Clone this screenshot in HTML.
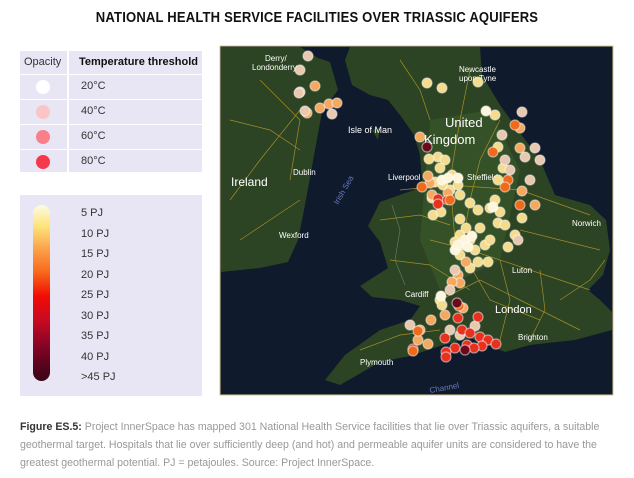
<!DOCTYPE html>
<html><head><meta charset="utf-8"><style>
body{margin:0;width:634px;height:478px;background:#fff;font-family:"Liberation Sans",sans-serif;position:relative;overflow:hidden}
.t{position:absolute;top:10px;left:0;width:634px;text-align:center;font-weight:900;font-size:14.5px;color:#111;letter-spacing:0.2px;transform:scaleX(0.9)}
.box1{position:absolute;left:20px;top:51px;width:182px;height:121px;background:#e8e6f5}
.row{position:absolute;left:0;width:182px;height:24px;border-top:1px solid #fff;font-size:11px;color:#333}
.c1{position:absolute;left:0;top:0;width:47px;height:100%;border-right:2px solid #fff}
.lab{position:absolute;left:61px;top:5px}
.dot{position:absolute;left:16px;top:5px;width:14px;height:14px;border-radius:50%}
.box2{position:absolute;left:20px;top:195px;width:182px;height:201px;background:#e8e6f5}
.bar{position:absolute;left:13px;top:10px;width:17px;height:176px;border-radius:9px;background:linear-gradient(#fdfbe4,#fde47a 12%,#fba24a 25%,#f76a1c 38%,#f20b05 52%,#c80a22 65%,#8e0525 78%,#5c041e 90%,#3a0416)}
.pj{position:absolute;left:61px;font-size:11px;color:#333}
.cap{position:absolute;left:20px;top:418px;width:600px;font-size:10.6px;line-height:18px;color:#999}
.cap b{color:#333}
</style></head><body>
<div class="t">NATIONAL HEALTH SERVICE FACILITIES OVER TRIASSIC AQUIFERS</div>
<div class="box1">
<div class="row" style="top:0;border-top:none;height:23px"><div class="c1"><span style="position:absolute;left:4px;top:5px">Opacity</span></div><span class="lab" style="font-weight:bold;color:#111;left:59px">Temperature threshold</span></div>
<div class="row" style="top:23px"><div class="c1"><div class="dot" style="background:#fff"></div></div><span class="lab">20°C</span></div>
<div class="row" style="top:48px"><div class="c1"><div class="dot" style="background:#fbc4c6"></div></div><span class="lab">40°C</span></div>
<div class="row" style="top:73px"><div class="c1"><div class="dot" style="background:#f8808a"></div></div><span class="lab">60°C</span></div>
<div class="row" style="top:98px"><div class="c1"><div class="dot" style="background:#f5394a"></div></div><span class="lab">80°C</span></div>
</div>
<div class="box2"><div class="bar"></div>
<div class="pj" style="top:12px">5 PJ</div><div class="pj" style="top:33px">10 PJ</div><div class="pj" style="top:53px">15 PJ</div><div class="pj" style="top:74px">20 PJ</div><div class="pj" style="top:94px">25 PJ</div><div class="pj" style="top:115px">30 PJ</div><div class="pj" style="top:135px">35 PJ</div><div class="pj" style="top:156px">40 PJ</div><div class="pj" style="top:176px">&gt;45 PJ</div>
</div>
<svg style="position:absolute;left:0;top:0" width="634" height="478">
<rect x="220" y="46" width="393" height="349" fill="#0f1a2c" stroke="#d8c98a" stroke-width="1"/>
<g fill="#2c4423">
<path d="M221,47 L300,47 L318,58 L330,62 L338,90 L322,112 L315,150 L310,178 L304,210 L298,240 L288,262 L260,268 L221,272 Z"/>
<path d="M350,47 L480,47 L482,75 L500,105 L518,130 L540,160 L555,195 L590,205 L606,220 L610,250 L603,275 L588,290 L600,300 L612,312 L612,330 L575,340 L530,345 L505,352 L470,338 L440,346 L410,356 L380,362 L340,385 L325,380 L345,355 L380,330 L410,320 L420,306 L400,300 L372,297 L360,286 L388,268 L380,242 L368,226 L380,202 L414,190 L422,180 L420,155 L414,135 L400,115 L388,100 L370,95 L352,85 L345,60 Z"/>
<path d="M372,130 L380,128 L378,140 Z"/>
</g>
<g fill="#3a5a2c" opacity="0.6"><path d="M430,120 L490,110 L520,170 L500,260 L440,290 L420,240 Z"/></g>
<g stroke="#c9a82a" stroke-width="0.7" fill="none" opacity="0.75">
<path d="M470,70 L460,120 L450,180 L455,240 L490,300 L540,320"/><path d="M400,190 L450,185 L520,190 L590,215"/><path d="M430,240 L470,250 L560,280 L590,290"/><path d="M300,110 L260,160 L230,200"/><path d="M440,300 L480,280 L520,300 L580,330"/><path d="M500,120 L480,160 L470,200 L460,260"/><path d="M260,80 L300,120 L290,180"/>
<path d="M380,220 L420,215 L450,225"/><path d="M390,260 L430,265 L470,290"/><path d="M360,350 L400,335 L440,330"/><path d="M520,230 L560,240 L600,250"/><path d="M540,270 L545,310 L530,340"/><path d="M230,120 L270,130 L300,150"/><path d="M240,240 L270,220 L300,200"/><path d="M400,60 L420,90 L430,120"/><path d="M500,260 L510,300 L500,340"/><path d="M560,300 L590,280 L605,260"/>
</g>
<path d="M392,205 L400,230 L395,260 L405,285" stroke="#9aa7a0" stroke-width="0.6" fill="none" opacity="0.6"/>
<g font-size="11" fill="#fff" font-family="Liberation Sans,sans-serif">
<text x="445" y="127" font-size="13">United</text><text x="424" y="144" font-size="13">Kingdom</text>
<text x="231" y="186" font-size="12">Ireland</text><text x="495" y="313" font-size="11">London</text>
<text x="348" y="133" font-size="9">Isle of Man</text><text x="293" y="175" font-size="8">Dublin</text>
<text x="279" y="238" font-size="8">Wexford</text><text x="572" y="226" font-size="8">Norwich</text>
<text x="459" y="72" font-size="8">Newcastle</text><text x="459" y="81" font-size="8">upon Tyne</text>
<text x="388" y="180" font-size="8">Liverpool</text><text x="467" y="180" font-size="8">Sheffield</text>
<text x="405" y="297" font-size="8">Cardiff</text><text x="360" y="365" font-size="8">Plymouth</text>
<text x="518" y="340" font-size="8">Brighton</text><text x="512" y="273" font-size="8">Luton</text>
<text x="265" y="61" font-size="8">Derry/</text><text x="252" y="70" font-size="8">Londonderry</text>
</g>
<g stroke="#fff" stroke-opacity="0.5" stroke-width="1.2">
<g fill="#f4dc8c"><circle cx="438" cy="157" r="5"/><circle cx="445" cy="160" r="5"/><circle cx="452" cy="175" r="5"/><circle cx="435" cy="182" r="5"/><circle cx="443" cy="185" r="5"/><circle cx="450" cy="190" r="5"/><circle cx="458" cy="185" r="5"/><circle cx="460" cy="195" r="5"/><circle cx="470" cy="203" r="5"/><circle cx="478" cy="210" r="5"/><circle cx="490" cy="208" r="5"/><circle cx="495" cy="200" r="5"/><circle cx="500" cy="212" r="5"/><circle cx="460" cy="235" r="5"/><circle cx="455" cy="242" r="5"/><circle cx="463" cy="245" r="5"/><circle cx="470" cy="240" r="5"/><circle cx="475" cy="250" r="5"/><circle cx="485" cy="245" r="5"/><circle cx="490" cy="240" r="5"/><circle cx="460" cy="255" r="5"/><circle cx="488" cy="262" r="5"/><circle cx="440" cy="300" r="5"/><circle cx="442" cy="305" r="5"/><circle cx="460" cy="219" r="5"/><circle cx="498" cy="223" r="5"/><circle cx="498" cy="147" r="5"/><circle cx="495" cy="115" r="5"/><circle cx="427" cy="83" r="5"/><circle cx="442" cy="88" r="5"/><circle cx="429" cy="159" r="5"/>
<circle cx="433" cy="215" r="5"/><circle cx="441" cy="212" r="5"/><circle cx="466" cy="228" r="5"/><circle cx="480" cy="228" r="5"/><circle cx="505" cy="225" r="5"/><circle cx="515" cy="235" r="5"/><circle cx="508" cy="247" r="5"/><circle cx="470" cy="268" r="5"/><circle cx="478" cy="262" r="5"/><circle cx="440" cy="168" r="5"/><circle cx="432" cy="198" r="5"/><circle cx="503" cy="168" r="5"/><circle cx="522" cy="218" r="5"/><circle cx="498" cy="180" r="5"/><circle cx="478" cy="82" r="5"/></g>
<g fill="#fdf6dc"><circle cx="465" cy="240" r="5"/><circle cx="472" cy="236" r="5"/><circle cx="455" cy="250" r="5"/><circle cx="442" cy="180" r="5"/><circle cx="458" cy="178" r="5"/><circle cx="493" cy="207" r="5"/><circle cx="441" cy="296" r="5"/><circle cx="486" cy="111" r="5"/><circle cx="458" cy="245" r="5"/><circle cx="468" cy="247" r="5"/><circle cx="448" cy="178" r="5"/></g>
<g fill="#f5a860"><circle cx="430" cy="183" r="5"/><circle cx="428" cy="176" r="5"/><circle cx="448" cy="193" r="5"/><circle cx="420" cy="137" r="5"/><circle cx="520" cy="128" r="5"/><circle cx="520" cy="148" r="5"/><circle cx="535" cy="205" r="5"/><circle cx="466" cy="262" r="5"/><circle cx="458" cy="275" r="5"/><circle cx="460" cy="283" r="5"/><circle cx="420" cy="330" r="5"/><circle cx="431" cy="320" r="5"/><circle cx="445" cy="315" r="5"/><circle cx="463" cy="308" r="5"/><circle cx="428" cy="344" r="5"/><circle cx="315" cy="86" r="5"/><circle cx="320" cy="108" r="5"/><circle cx="307" cy="113" r="5"/><circle cx="522" cy="191" r="5"/><circle cx="418" cy="340" r="5"/><circle cx="329" cy="104" r="5"/><circle cx="337" cy="103" r="5"/><circle cx="432" cy="195" r="5"/><circle cx="452" cy="282" r="5"/></g>
<g fill="#e9c8b0"><circle cx="505" cy="160" r="5"/><circle cx="510" cy="170" r="5"/><circle cx="530" cy="180" r="5"/><circle cx="540" cy="160" r="5"/><circle cx="525" cy="157" r="5"/><circle cx="450" cy="330" r="5"/><circle cx="460" cy="335" r="5"/><circle cx="475" cy="326" r="5"/><circle cx="300" cy="92" r="5"/><circle cx="300" cy="70" r="5"/><circle cx="305" cy="111" r="5"/><circle cx="299" cy="93" r="5"/><circle cx="410" cy="325" r="5"/><circle cx="502" cy="135" r="5"/><circle cx="522" cy="112" r="5"/><circle cx="535" cy="148" r="5"/><circle cx="450" cy="290" r="5"/><circle cx="455" cy="270" r="5"/><circle cx="518" cy="240" r="5"/><circle cx="308" cy="56" r="5"/><circle cx="332" cy="114" r="5"/></g>
<g fill="#e8301e"><circle cx="438" cy="199" r="5"/><circle cx="447" cy="200" r="4.5"/><circle cx="462" cy="330" r="5"/><circle cx="470" cy="333" r="5"/><circle cx="480" cy="337" r="5"/><circle cx="467" cy="345" r="5"/><circle cx="455" cy="348" r="5"/><circle cx="446" cy="352" r="5"/><circle cx="445" cy="338" r="5"/><circle cx="488" cy="340" r="5"/><circle cx="496" cy="344" r="5"/><circle cx="482" cy="346" r="5"/><circle cx="458" cy="318" r="5"/><circle cx="413" cy="349" r="5"/><circle cx="478" cy="317" r="5"/><circle cx="438" cy="204" r="5"/><circle cx="446" cy="357" r="5"/><circle cx="474" cy="348" r="5"/></g>
<g fill="#f06a1c"><circle cx="422" cy="187" r="5"/><circle cx="515" cy="125" r="5"/><circle cx="508" cy="180" r="5"/><circle cx="493" cy="152" r="5"/><circle cx="459" cy="306" r="5"/><circle cx="413" cy="351" r="5"/><circle cx="418" cy="331" r="5"/><circle cx="520" cy="205" r="5"/><circle cx="505" cy="187" r="5"/><circle cx="450" cy="200" r="5"/></g>
<g fill="#6a0b1c"><circle cx="427" cy="147" r="5"/><circle cx="457" cy="303" r="5"/><circle cx="465" cy="350" r="5"/></g>
</g>
<text x="430" y="393" font-size="8" fill="#6d7bc0" transform="rotate(-10 430 393)">Channel</text>
<text x="338" y="205" font-size="8" fill="#6d7bc0" transform="rotate(-60 338 205)">Irish Sea</text>
</svg>
<div class="cap"><b>Figure ES.5:</b> Project InnerSpace has mapped 301 National Health Service facilities that lie over Triassic aquifers, a suitable geothermal target. Hospitals that lie over sufficiently deep (and hot) and permeable aquifer units are considered to have the greatest geothermal potential. PJ = petajoules. Source: Project InnerSpace.</div>
</body></html>
